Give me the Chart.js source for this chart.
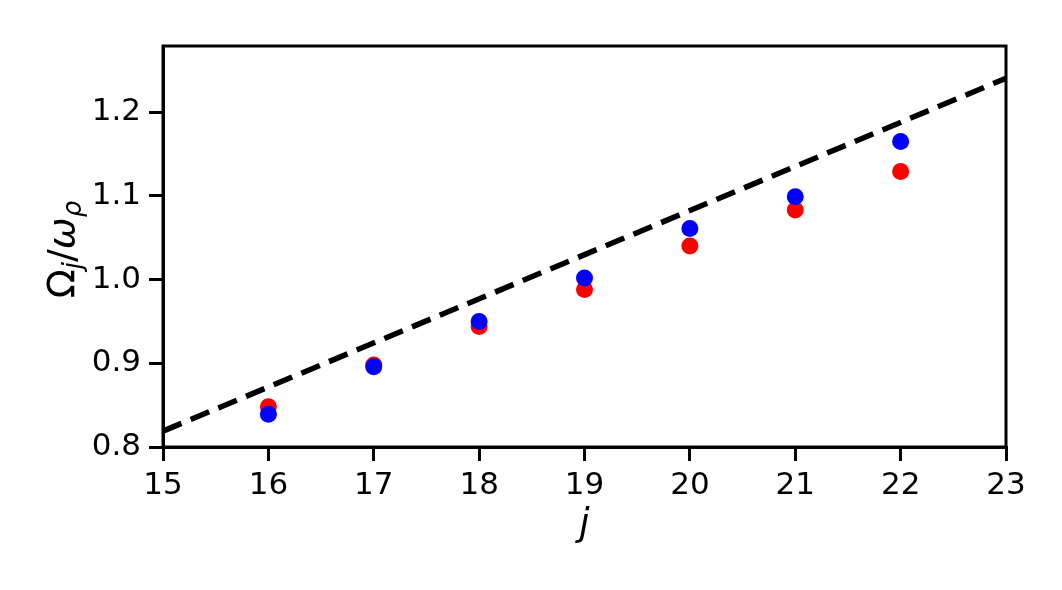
<!DOCTYPE html>
<html>
<head>
<meta charset="utf-8">
<script src="https://cdn.jsdelivr.net/npm/chart.js@4"></script>
<style>
  body { margin: 0; background: #fff; }
  #wrap { width: 1062px; height: 590px; position: relative; }
</style>
</head>
<body>
<div id="wrap"><canvas id="chart"></canvas></div>
<script>
// j values and frequencies
const jValues = [16, 17, 18, 19, 20, 21, 22];
const redValues = [0.848, 0.898, 0.944, 0.988, 1.040, 1.083, 1.129];
const blueValues = [0.839, 0.896, 0.950, 1.002, 1.061, 1.099, 1.165];
// dashed reference line (end points)
const lineX = [15, 23];
const lineY = [0.819, 1.2405];
const xTicks = [15, 16, 17, 18, 19, 20, 21, 22, 23];
const yTicks = [0.8, 0.9, 1.0, 1.1, 1.2];

const FONT = "'DejaVu Sans', sans-serif";

// frame + axis titles (with subscripts)
const framePlugin = {
    id: 'frame',
    afterDraw(chart) {
        const ctx = chart.ctx;
        const a = chart.chartArea;
        ctx.save();
        ctx.strokeStyle = '#000';
        ctx.lineWidth = 3;
        ctx.strokeRect(a.left, a.top, a.right - a.left, a.bottom - a.top);

        // x title
        ctx.fillStyle = '#000';
        ctx.font = 'italic 37px ' + FONT;
        ctx.textAlign = 'center';
        ctx.textBaseline = 'alphabetic';
        ctx.fillText('j', (a.left + a.right) / 2, 535);

        // y title: Ω_j / ω_ρ
        const parts = [
            { t: 'Ω', f: '38px ' + FONT, dy: 0 },
            { t: 'j', f: 'italic 26px ' + FONT, dy: 7 },
            { t: '/', f: '38px ' + FONT, dy: 0 },
            { t: 'ω', f: 'italic 38px ' + FONT, dy: 0 },
            { t: 'ρ', f: 'italic 26px ' + FONT, dy: 7 }
        ];
        let total = 0;
        parts.forEach(p => { ctx.font = p.f; p.w = ctx.measureText(p.t).width; total += p.w; });
        ctx.translate(74, (a.top + a.bottom) / 2 + 3);
        ctx.rotate(-Math.PI / 2);
        ctx.textAlign = 'left';
        let x = -total / 2;
        parts.forEach(p => {
            ctx.font = p.f;
            ctx.fillText(p.t, x, p.dy);
            x += p.w;
        });
        ctx.restore();
    }
};

const gridOpts = {
    drawOnChartArea: false,
    drawTicks: true,
    tickLength: 14,
    tickWidth: 3,
    tickColor: '#000',
    color: '#000',
    lineWidth: 3
};

new Chart(document.getElementById('chart'), {
    type: 'scatter',
    data: {
        datasets: [{
            label: 'blue',
            data: jValues.map((j, i) => ({ x: j, y: blueValues[i] })),
            backgroundColor: '#0000ff',
            borderWidth: 0,
            pointRadius: 8.5,
            order: 0
        }, {
            label: 'red',
            data: jValues.map((j, i) => ({ x: j, y: redValues[i] })),
            backgroundColor: '#ff0000',
            borderWidth: 0,
            pointRadius: 8.5,
            order: 1
        }, {
            type: 'line',
            label: 'fit',
            data: lineX.map((x, i) => ({ x: x, y: lineY[i] })),
            borderColor: '#000',
            borderWidth: 5.5,
            borderDash: [20, 10],
            pointRadius: 0,
            fill: false,
            order: 2
        }]
    },
    options: {
        responsive: true,
        maintainAspectRatio: false,
        animation: false,
        devicePixelRatio: 1,
        layout: { padding: { left: 0, top: 46, right: 56, bottom: 0 } },
        plugins: {
            legend: { display: false },
            tooltip: { enabled: false }
        },
        scales: {
            x: {
                type: 'linear',
                min: 15,
                max: 23,
                afterFit(scale) { scale.height = 143; },
                afterBuildTicks(scale) { scale.ticks = xTicks.map(v => ({ value: v })); },
                ticks: {
                    color: '#000',
                    font: { family: FONT, size: 31 },
                    padding: 6,
                    maxRotation: 0,
                    autoSkip: false
                },
                grid: gridOpts,
                border: { display: true, color: '#000', width: 3 }
            },
            y: {
                min: 0.8,
                max: 1.279,
                afterFit(scale) { scale.width = 163; },
                afterBuildTicks(scale) { scale.ticks = yTicks.map(v => ({ value: v })); },
                ticks: {
                    color: '#000',
                    font: { family: FONT, size: 31 },
                    padding: 8,
                    autoSkip: false,
                    callback: v => v.toFixed(1)
                },
                grid: gridOpts,
                border: { display: true, color: '#000', width: 3 }
            }
        }
    },
    plugins: [framePlugin]
});
</script>
</body>
</html>
